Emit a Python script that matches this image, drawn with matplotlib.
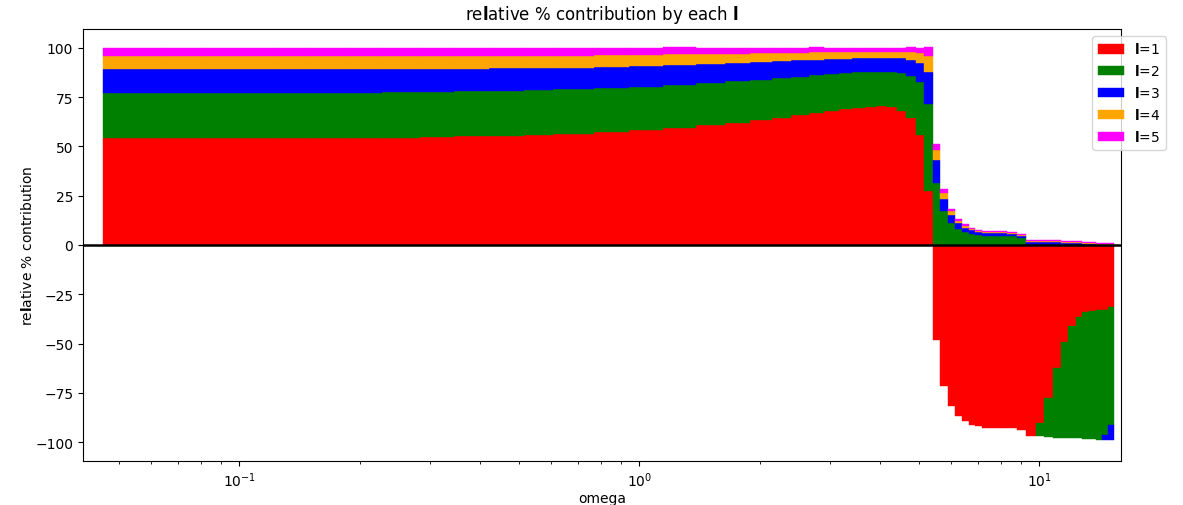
import numpy as np
import matplotlib
matplotlib.use("Agg")
import matplotlib.pyplot as plt

# bar edges along omega (57 bars)
omega_edges = [0.04558, 0.06588, 0.0820, 0.1003, 0.1227, 0.1500, 0.1846, 0.2271, 0.2827, 0.3438,
               0.4205, 0.5143, 0.6078, 0.7694, 0.9413, 1.1449, 1.3844, 1.6360, 1.8890, 2.1444,
               2.3923, 2.6531, 2.8927, 3.1535, 3.3981, 3.6627, 3.9023, 4.1567, 4.4041, 4.6383,
               4.9125, 5.1431, 5.4167, 5.6394, 5.9054, 6.1482, 6.4010, 6.6641, 6.8984, 7.1821,
               7.4345, 7.7401, 8.0121, 8.2936, 8.7842, 9.2510, 9.8005, 10.262, 10.808, 11.317,
               11.783, 12.338, 12.772, 13.297, 13.844, 14.330, 14.834, 15.357]

l1 = [54.2, 54.3, 54.3, 54.3, 54.3, 54.3, 54.3, 54.3, 54.8, 55.3,
      55.3, 56.0, 56.3, 57.4, 58.4, 59.4, 60.9, 61.9, 63.5, 64.5,
      66.0, 67.0, 68.0, 69.0, 69.5, 70.1, 70.6, 70.1, 68.0, 64.5,
      55.8, 27.6, -48.2, -71.6, -81.7, -86.8, -89.3, -91.4, -91.9, -92.9,
      -93.1, -93.1, -93.1, -93.1, -94.1, -96.8, -90.4, -77.7, -62.4, -49.2,
      -41.1, -36.5, -34.0, -33.5, -33.0, -33.0, -31.5]
l2 = [23.1, 23.0, 23.0, 23.0, 23.0, 23.0, 23.0, 23.4, 22.9, 22.9,
      22.9, 22.7, 22.9, 22.3, 21.8, 21.8, 21.3, 21.3, 20.3, 20.3,
      19.3, 19.3, 18.8, 18.3, 18.3, 17.7, 17.2, 17.7, 19.3, 21.3,
      26.9, 44.0, 31.5, 17.3, 11.2, 8.1, 6.6, 5.6, 5.1, 4.6,
      4.6, 4.6, 4.6, 4.6, 3.6, 0.0, -6.4, -19.6, -35.4, -48.6,
      -56.7, -61.3, -64.3, -64.8, -65.8, -63.4, -59.9]
l3 = [12.0, 12.0, 12.0, 12.0, 12.0, 12.0, 12.0, 11.6, 11.6, 11.1,
      11.6, 11.1, 10.6, 10.7, 10.7, 10.2, 9.7, 9.2, 9.1, 8.6,
      8.6, 7.6, 7.6, 7.1, 7.1, 7.1, 7.1, 7.1, 7.6, 8.1,
      9.7, 16.2, 11.6, 6.1, 4.0, 3.1, 2.0, 2.0, 1.5, 1.5,
      1.5, 1.5, 1.5, 1.0, 1.0, 1.3, 1.5, 1.5, 1.5, 1.0,
      1.0, 1.0, 0.5, 0.5, 0.0, -2.4, -7.4]
l4 = [6.6, 6.6, 6.6, 6.6, 6.6, 6.6, 6.6, 6.6, 6.6, 6.6,
      6.1, 6.1, 6.1, 6.0, 5.5, 5.6, 5.1, 4.6, 4.6, 4.1,
      3.6, 4.1, 3.6, 3.6, 3.1, 3.1, 3.1, 3.1, 3.1, 4.1,
      5.1, 8.1, 5.1, 3.0, 2.1, 1.0, 1.0, 0.5, 0.5, 0.5,
      0.5, 0.5, 0.5, 0.5, 0.5, 0.7, 0.5, 0.5, 0.5, 0.5,
      0.5, 0.5, 0.5, 0.5, 0.5, 0.5, 0.5]
l5 = [4.1, 4.1, 4.1, 4.1, 4.1, 4.1, 4.1, 4.1, 4.1, 4.1,
      4.1, 4.1, 4.1, 3.6, 3.6, 3.5, 3.0, 3.0, 2.5, 2.5,
      2.5, 2.5, 2.0, 2.0, 2.0, 2.0, 2.0, 2.0, 2.0, 2.5,
      2.5, 4.6, 3.1, 2.0, 1.0, 1.0, 1.1, 0.5, 0.5, 0.5,
      0.5, 0.5, 0.5, 0.5, 0.5, 0.7, 0.5, 0.5, 0.5, 0.5,
      0.5, 0.5, 0.5, 0.5, 0.5, 0.5, 0.5]

labels = [r"$\mathbf{l}$=1", r"$\mathbf{l}$=2", r"$\mathbf{l}$=3", r"$\mathbf{l}$=4", r"$\mathbf{l}$=5"]
colors = ["red", "green", "blue", "orange", "magenta"]

fig = plt.figure(figsize=(11.83, 5.06), dpi=100)
ax = fig.add_axes([83 / 1183, 1 - 462 / 506, (1121 - 83) / 1183, (462 - 30) / 506])

edges = np.array(omega_edges)
left = edges[:-1]
width = np.diff(edges)
pos_bottom = np.zeros(len(left))
neg_bottom = np.zeros(len(left))
for vals, c, lab in zip([l1, l2, l3, l4, l5], colors, labels):
    v = np.array(vals)
    bottom = np.where(v >= 0, pos_bottom, neg_bottom)
    ax.bar(left, v, width=width, bottom=bottom, align="edge", color=c,
           edgecolor=c, linewidth=0.3, label=lab)
    pos_bottom += np.clip(v, 0, None)
    neg_bottom += np.clip(v, None, 0)

ax.axhline(0, color="black", linewidth=1.8)
ax.set_xscale("log")
ax.set_xlim(0.04062, 15.99)
ax.set_ylim(-109.6, 109.6)
ax.set_yticks([-100, -75, -50, -25, 0, 25, 50, 75, 100])
ax.set_xlabel("omega", labelpad=1.5)
ax.set_ylabel(r"re$\mathbf{l}$ative % contribution", labelpad=0)
ax.set_title(r"re$\mathbf{l}$ative % contribution by each $\mathbf{l}$", pad=7)
ax.legend(loc="upper right", bbox_to_anchor=(1.05, 1.0), handlelength=1.9, handletextpad=0.7)

fig.savefig("out.png", dpi=100)
